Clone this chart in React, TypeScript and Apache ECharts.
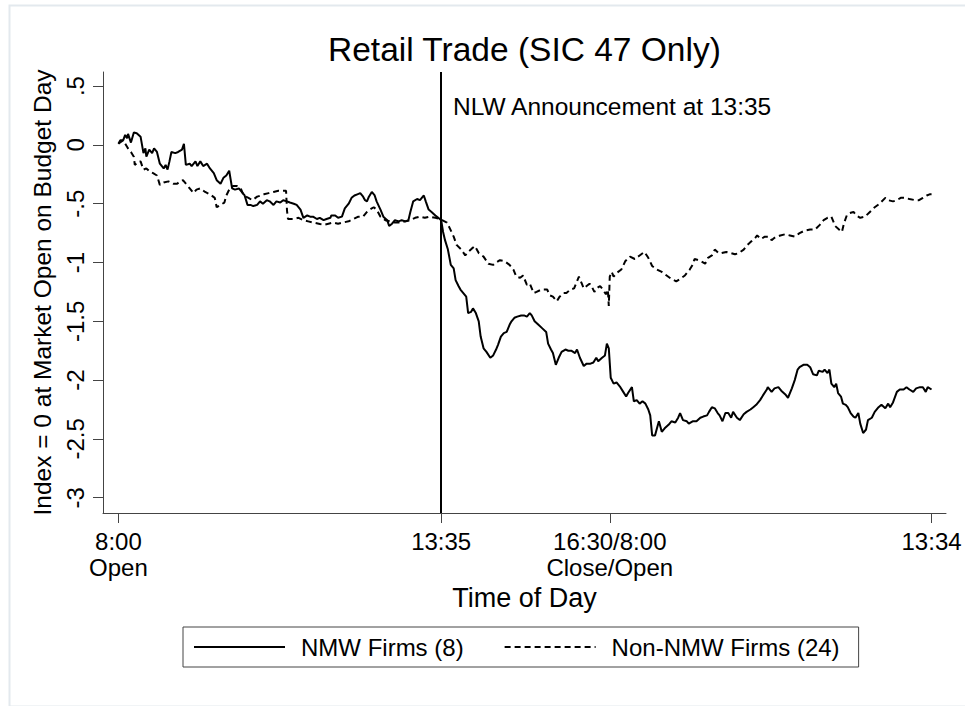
import React, { useEffect, useRef } from "react";
import * as echarts from "echarts";

// minutes of trading since 8:00 open on budget day (16:30 close == next 8:00 open at 510)
const xTickValues = [0, 335, 510, 844];
const xTickLabels = ["8:00\nOpen", "13:35", "16:30/8:00\nClose/Open", "13:34"];
const yTickValues = [-3, -2.5, -2, -1.5, -1, -0.5, 0, 0.5];
const announcementMinute = 335;

const titleText = "Retail Trade (SIC 47 Only)";
const xTitle = "Time of Day";
const yTitle = "Index = 0 at Market Open on Budget Day";
const annotationText = "NLW Announcement at 13:35";
const seriesNames = ["NMW Firms (8)", "Non-NMW Firms (24)"];

// NMW firms: [minute, index]
const nmwData: [number, number][] = [
  [0, 0.01], [2, 0.04], [5, 0.04], [7, 0.085], [9, 0.057], [10, 0.094], [13, 0.02], [16, 0.105],
  [19, 0.1], [23, 0.07], [26, -0.07], [28, -0.03], [29, -0.1], [32, -0.04], [35, -0.07], [37, -0.03],
  [40, -0.06], [43, -0.16], [47, -0.2], [49, -0.17], [51, -0.21], [53, -0.14], [55, -0.06], [59, -0.07],
  [62, -0.06], [66, -0.04], [68, 0.01], [70, -0.17], [74, -0.16], [76, -0.18], [80, -0.14], [82, -0.18],
  [85, -0.14], [88, -0.18], [92, -0.16], [95, -0.2], [99, -0.24], [102, -0.3], [106, -0.33], [109, -0.28],
  [112, -0.26], [115, -0.22], [118, -0.37], [121, -0.38], [125, -0.37], [128, -0.4], [131, -0.43], [134, -0.51],
  [137, -0.51], [140, -0.52], [144, -0.51], [147, -0.48], [150, -0.5], [154, -0.47], [157, -0.48], [161, -0.51],
  [164, -0.48], [168, -0.49], [171, -0.47], [175, -0.48], [178, -0.49], [182, -0.5], [185, -0.51], [189, -0.55],
  [192, -0.62], [196, -0.6], [199, -0.61], [202, -0.61], [206, -0.63], [209, -0.62], [213, -0.64], [216, -0.63],
  [220, -0.62], [221, -0.6], [225, -0.6], [228, -0.62], [232, -0.61], [235, -0.54], [239, -0.5], [242, -0.45],
  [245, -0.43], [248, -0.42], [251, -0.41], [254, -0.44], [256, -0.47], [258, -0.48], [260, -0.44], [263, -0.4],
  [266, -0.43], [268, -0.48], [272, -0.55], [275, -0.61], [279, -0.64], [281, -0.69], [284, -0.67], [287, -0.64],
  [291, -0.65], [294, -0.64], [298, -0.65], [301, -0.64], [303, -0.57], [306, -0.48], [310, -0.46], [313, -0.47],
  [317, -0.43], [319, -0.48], [322, -0.55], [325, -0.57], [329, -0.6], [332, -0.62], [335, -0.64], [337, -0.74],
  [339, -0.81], [342, -0.89], [345, -1.02], [348, -1.05], [350, -1.15], [353, -1.2], [355, -1.23], [358, -1.26],
  [361, -1.29], [363, -1.43], [366, -1.42], [368, -1.39], [371, -1.43], [374, -1.5], [376, -1.63], [379, -1.73],
  [382, -1.76], [386, -1.81], [389, -1.79], [392, -1.74], [394, -1.7], [397, -1.63], [400, -1.6], [403, -1.59],
  [406, -1.53], [408, -1.5], [411, -1.47], [414, -1.46], [418, -1.45], [421, -1.45], [424, -1.46], [427, -1.43],
  [429, -1.45], [432, -1.5], [436, -1.53], [440, -1.56], [444, -1.59], [446, -1.69], [449, -1.74], [451, -1.77],
  [454, -1.87], [457, -1.81], [460, -1.76], [464, -1.74], [467, -1.75], [470, -1.75], [474, -1.77], [476, -1.74],
  [479, -1.81], [483, -1.88], [486, -1.86], [490, -1.86], [493, -1.85], [496, -1.81], [498, -1.84], [502, -1.81],
  [505, -1.79], [507, -1.69], [509, -1.73], [511, -1.98], [514, -2.03], [517, -2.02], [521, -2.06], [524, -2.1],
  [527, -2.14], [529, -2.11], [533, -2.06], [535, -2.18], [538, -2.17], [541, -2.2], [544, -2.18], [547, -2.2],
  [550, -2.25], [552, -2.3], [554, -2.47], [557, -2.47], [559, -2.41], [561, -2.35], [564, -2.44], [567, -2.41],
  [571, -2.38], [574, -2.35], [578, -2.36], [581, -2.32], [583, -2.28], [586, -2.34], [590, -2.35], [592, -2.37],
  [596, -2.35], [600, -2.35], [604, -2.32], [607, -2.31], [611, -2.3], [613, -2.27], [616, -2.23], [619, -2.24],
  [622, -2.28], [624, -2.3], [627, -2.35], [630, -2.28], [633, -2.28], [636, -2.32], [638, -2.27], [642, -2.32],
  [645, -2.34], [649, -2.29], [652, -2.27], [656, -2.25], [659, -2.23], [662, -2.21], [666, -2.17], [669, -2.13],
  [673, -2.08], [674, -2.06], [678, -2.1], [681, -2.07], [685, -2.06], [688, -2.09], [692, -2.12], [695, -2.15],
  [699, -2.07], [702, -2.0], [705, -1.91], [707, -1.89], [711, -1.87], [715, -1.87], [718, -1.89], [721, -1.95],
  [725, -1.96], [727, -1.92], [731, -1.93], [733, -1.91], [736, -1.94], [738, -1.91], [740, -2.03], [743, -2.06],
  [745, -2.03], [747, -2.11], [750, -2.14], [752, -2.2], [755, -2.21], [757, -2.23], [760, -2.28], [763, -2.31],
  [765, -2.32], [768, -2.28], [770, -2.37], [773, -2.45], [776, -2.42], [778, -2.34], [782, -2.32], [785, -2.27],
  [789, -2.23], [792, -2.21], [796, -2.24], [799, -2.2], [801, -2.23], [804, -2.19], [808, -2.1], [811, -2.08],
  [815, -2.08], [818, -2.06], [821, -2.08], [825, -2.1], [828, -2.07], [832, -2.06], [835, -2.06], [838, -2.1],
  [840, -2.06], [844, -2.08],
];

// Non-NMW firms: [minute, index]
const nonNmwData: [number, number][] = [
  [0, 0.01], [5, 0.04], [10, -0.03], [13, -0.06], [16, -0.1], [17, -0.17], [21, -0.14], [23, -0.14],
  [26, -0.21], [29, -0.2], [33, -0.23], [36, -0.24], [40, -0.26], [43, -0.34], [47, -0.32], [52, -0.31],
  [57, -0.33], [61, -0.33], [64, -0.31], [67, -0.3], [71, -0.34], [74, -0.37], [78, -0.41], [81, -0.38],
  [85, -0.37], [90, -0.4], [95, -0.42], [100, -0.45], [102, -0.53], [106, -0.51], [110, -0.49], [112, -0.43],
  [115, -0.38], [119, -0.35], [123, -0.35], [127, -0.37], [130, -0.43], [135, -0.45], [139, -0.47], [144, -0.44],
  [148, -0.43], [151, -0.42], [156, -0.41], [161, -0.4], [166, -0.39], [171, -0.39], [174, -0.39], [175, -0.56],
  [176, -0.63], [182, -0.63], [187, -0.62], [192, -0.64], [197, -0.65], [202, -0.66], [208, -0.67], [213, -0.68],
  [218, -0.67], [223, -0.66], [228, -0.67], [233, -0.66], [239, -0.65], [244, -0.63], [249, -0.61], [254, -0.61],
  [258, -0.57], [261, -0.55], [265, -0.53], [268, -0.55], [272, -0.61], [277, -0.64], [282, -0.65], [287, -0.66],
  [292, -0.66], [298, -0.65], [303, -0.64], [308, -0.62], [313, -0.61], [318, -0.62], [323, -0.61], [329, -0.62],
  [334, -0.63], [336, -0.64], [341, -0.66], [344, -0.71], [348, -0.78], [351, -0.85], [356, -0.89], [360, -0.94],
  [363, -0.91], [367, -0.88], [370, -0.86], [374, -0.92], [379, -0.95], [384, -1.01], [389, -1.02], [392, -1.0],
  [396, -0.98], [401, -0.99], [406, -1.02], [410, -1.06], [413, -1.12], [417, -1.13], [420, -1.11], [424, -1.19],
  [427, -1.18], [431, -1.26], [434, -1.25], [439, -1.23], [445, -1.23], [448, -1.28], [451, -1.29], [455, -1.33],
  [458, -1.29], [462, -1.26], [465, -1.26], [469, -1.23], [473, -1.22], [476, -1.16], [478, -1.12], [481, -1.18],
  [483, -1.22], [486, -1.2], [489, -1.18], [491, -1.2], [494, -1.25], [496, -1.22], [500, -1.2], [503, -1.23],
  [506, -1.27], [508, -1.23], [509, -1.37], [510, -1.12], [512, -1.08], [514, -1.12], [517, -1.09], [522, -1.06],
  [526, -0.99], [531, -0.95], [536, -0.97], [541, -0.94], [546, -0.91], [550, -0.96], [554, -1.03], [559, -1.06],
  [564, -1.08], [569, -1.11], [574, -1.14], [579, -1.16], [583, -1.14], [588, -1.11], [593, -1.06], [596, -1.02],
  [598, -0.97], [602, -0.98], [605, -0.99], [609, -1.01], [612, -0.96], [616, -0.94], [619, -0.89], [623, -0.92],
  [626, -0.92], [631, -0.91], [636, -0.92], [640, -0.93], [644, -0.92], [649, -0.89], [653, -0.85], [657, -0.82],
  [661, -0.79], [663, -0.77], [667, -0.8], [671, -0.78], [675, -0.78], [678, -0.81], [681, -0.79], [687, -0.77],
  [692, -0.76], [697, -0.77], [702, -0.78], [707, -0.75], [712, -0.73], [718, -0.72], [723, -0.72], [728, -0.68],
  [732, -0.64], [736, -0.62], [740, -0.61], [744, -0.69], [748, -0.72], [751, -0.74], [753, -0.67], [756, -0.6],
  [759, -0.58], [763, -0.57], [766, -0.6], [770, -0.62], [775, -0.61], [780, -0.57], [785, -0.53], [790, -0.5],
  [796, -0.45], [799, -0.47], [804, -0.48], [808, -0.47], [812, -0.45], [816, -0.45], [821, -0.46], [827, -0.47],
  [831, -0.47], [835, -0.45], [839, -0.43], [842, -0.42], [844, -0.42],
];

const FONT = "'Liberation Sans', Arial, Helvetica, sans-serif";
const AXIS_COLOR = "#444";

function fmtY(v: number): string {
  if (v === 0) return "0";
  return String(v).replace("0.", ".");
}

function fmtX(v: number): string {
  const i = xTickValues.indexOf(v);
  return i >= 0 ? xTickLabels[i] : "";
}

export default function App() {
  const ref = useRef<HTMLDivElement>(null);

  useEffect(() => {
    if (!ref.current) return;
    const chart = echarts.init(ref.current, null, { renderer: "svg" });
    chart.setOption({
      animation: false,
      backgroundColor: "#fff",
      textStyle: { fontFamily: FONT, color: "#000" },
      title: {
        text: titleText,
        left: 328,
        top: 32,
        padding: 0,
        textStyle: { fontFamily: FONT, fontSize: 33.5, fontWeight: "normal", color: "#000" },
      },
      grid: { left: 103, right: 19, top: 72, bottom: 193, containLabel: false, outerBoundsMode: "none" },
      xAxis: {
        type: "value",
        min: -16,
        max: 859,
        name: xTitle,
        nameLocation: "middle",
        nameGap: 71,
        nameTextStyle: { fontFamily: FONT, fontSize: 27, color: "#000" },
        axisLine: { show: true, onZero: false, lineStyle: { color: AXIS_COLOR, width: 1 } },
        axisTick: { show: true, length: 10, customValues: xTickValues, lineStyle: { color: AXIS_COLOR, width: 1 } },
        axisLabel: {
          customValues: xTickValues,
          formatter: fmtX,
          fontFamily: FONT,
          fontSize: 24,
          lineHeight: 26,
          color: "#000",
          margin: 15,
          hideOverlap: false,
        },
        splitLine: { show: false },
      },
      yAxis: {
        type: "value",
        min: -3.13,
        max: 0.62,
        name: yTitle,
        nameLocation: "middle",
        nameRotate: 90,
        nameGap: 38,
        nameTextStyle: { fontFamily: FONT, fontSize: 24.5, color: "#000" },
        axisLine: { show: true, onZero: false, lineStyle: { color: AXIS_COLOR, width: 1 } },
        axisTick: { show: true, length: 10, customValues: yTickValues, lineStyle: { color: AXIS_COLOR, width: 1 } },
        axisLabel: {
          customValues: yTickValues,
          formatter: fmtY,
          rotate: 90,
          fontFamily: FONT,
          fontSize: 24,
          color: "#000",
          margin: 16,
        },
        splitLine: { show: false },
      },
      legend: {
        left: 183,
        top: 627,
        orient: "horizontal",
        padding: [8, 19, 8, 10],
        itemGap: 40,
        itemWidth: 91,
        itemHeight: 14,
        borderColor: AXIS_COLOR,
        borderWidth: 1,
        itemStyle: { opacity: 0 },
        textStyle: { fontFamily: FONT, fontSize: 24, color: "#000", padding: [0, 0, 0, 11] },
        data: seriesNames,
      },
      series: [
        {
          name: seriesNames[0],
          type: "line",
          data: nmwData,
          symbol: "none",
          lineStyle: { color: "#000", width: 2 },
          itemStyle: { color: "#000" },
          markLine: {
            silent: true,
            symbol: "none",
            label: { show: false },
            lineStyle: { color: "#000", width: 2, type: "solid" },
            data: [{ xAxis: announcementMinute }],
          },
          z: 3,
        },
        {
          name: seriesNames[1],
          type: "line",
          data: nonNmwData,
          symbol: "none",
          lineStyle: { color: "#000", width: 2, type: [6, 4] },
          itemStyle: { color: "#000" },
          z: 2,
        },
      ],
      graphic: [
        {
          type: "rect",
          left: 7,
          top: 3,
          shape: { width: 975, height: 701 },
          style: { fill: "none", stroke: "#e3e9ee", lineWidth: 2 },
          silent: true,
          z: -1,
        },
        {
          type: "text",
          x: 453,
          y: 106.5,
          style: {
            text: annotationText,
            font: `24.5px ${FONT}`,
            fill: "#000",
            verticalAlign: "middle",
            align: "left",
          },
        },
      ],
    });
    return () => chart.dispose();
  }, []);

  return (
    <div
      ref={ref}
      style={{ position: "fixed", left: 0, top: 0, width: 965, height: 706, background: "#fff" }}
    />
  );
}
